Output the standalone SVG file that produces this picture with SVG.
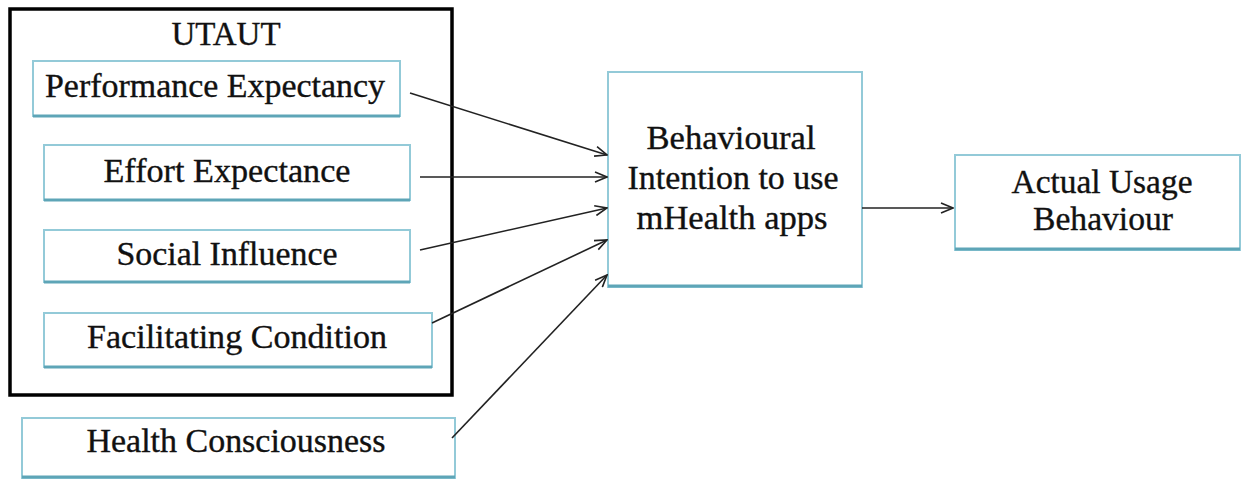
<svg xmlns="http://www.w3.org/2000/svg" width="1260" height="479" viewBox="0 0 1260 479">
<style>
.box{fill:#fff;stroke:#93cad8;stroke-width:2}
.bot{stroke:#5ea5b7;stroke-width:3}
.t{font-family:"Liberation Serif","Times New Roman",serif;font-size:33px;fill:#111;stroke:#111;stroke-width:0.35;text-anchor:middle}
.c{stroke:#222;stroke-width:1.6;fill:none;marker-end:url(#ah)}
</style>
<defs>
<marker id="ah" markerWidth="14" markerHeight="12" refX="13" refY="6" orient="auto" markerUnits="userSpaceOnUse">
<polyline points="1,1 13,6 1,11" fill="none" stroke="#222" stroke-width="1.6"/>
</marker>
</defs>
<rect width="1260" height="479" fill="#fff"/>
<g id="utaut">
<rect x="10" y="9" width="442" height="386" fill="none" stroke="#000" stroke-width="3.5"/>
<text class="t" x="226" y="45">UTAUT</text>
</g>
<g id="pe">
<rect class="box" x="33" y="61" width="367" height="55"/>
<line class="bot" x1="33" y1="116" x2="400" y2="116"/>
<text class="t" x="215" y="97" textLength="340" lengthAdjust="spacingAndGlyphs">Performance Expectancy</text>
</g>
<g id="ee">
<rect class="box" x="44" y="145" width="366" height="55"/>
<line class="bot" x1="44" y1="200" x2="410" y2="200"/>
<text class="t" x="227" y="182" textLength="247" lengthAdjust="spacingAndGlyphs">Effort Expectance</text>
</g>
<g id="si">
<rect class="box" x="44" y="230" width="366" height="52"/>
<line class="bot" x1="44" y1="282" x2="410" y2="282"/>
<text class="t" x="227" y="265" textLength="221" lengthAdjust="spacingAndGlyphs">Social Influence</text>
</g>
<g id="fc">
<rect class="box" x="44" y="313" width="388" height="54"/>
<line class="bot" x1="44" y1="367" x2="432" y2="367"/>
<text class="t" x="237" y="348" textLength="300" lengthAdjust="spacingAndGlyphs">Facilitating Condition</text>
</g>
<g id="hc">
<rect class="box" x="22" y="418" width="433" height="60"/>
<line class="bot" x1="22" y1="477" x2="455" y2="477"/>
<text class="t" x="236" y="452" textLength="299" lengthAdjust="spacingAndGlyphs">Health Consciousness</text>
</g>
<g id="bi">
<rect class="box" x="608" y="72" width="254" height="215"/>
<line class="bot" x1="608" y1="286" x2="862" y2="286"/>
<text class="t" x="731" y="149" textLength="169" lengthAdjust="spacingAndGlyphs">Behavioural</text>
<text class="t" x="733" y="189" textLength="211" lengthAdjust="spacingAndGlyphs">Intention to use</text>
<text class="t" x="732" y="229" textLength="191" lengthAdjust="spacingAndGlyphs">mHealth apps</text>
</g>
<g id="au">
<rect class="box" x="955" y="155" width="285" height="95"/>
<line class="bot" x1="955" y1="249" x2="1240" y2="249"/>
<text class="t" x="1102" y="193" textLength="181" lengthAdjust="spacingAndGlyphs">Actual Usage</text>
<text class="t" x="1103" y="230" textLength="140" lengthAdjust="spacingAndGlyphs">Behaviour</text>
</g>
<g id="connectors">
<line class="c" x1="410" y1="93" x2="607" y2="155"/>
<line class="c" x1="420" y1="177" x2="607" y2="177"/>
<line class="c" x1="420" y1="250" x2="607" y2="208"/>
<line class="c" x1="432" y1="323" x2="607" y2="240"/>
<line class="c" x1="452" y1="438" x2="607" y2="275"/>
<line class="c" x1="862" y1="208" x2="953" y2="208"/>
</g>
</svg>
